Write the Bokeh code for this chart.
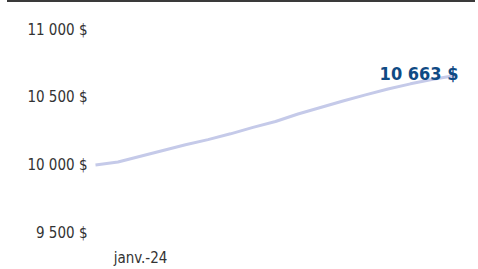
from bokeh.plotting import figure
from bokeh.models import FixedTicker, Range1d, Div
from bokeh.layouts import column
from bokeh.core.properties import value
from bokeh.embed import file_html
from bokeh.resources import INLINE

# Data
months = list(range(17))
values = [10000, 10022, 10065, 10108, 10150, 10188, 10231, 10279, 10322,
          10378, 10426, 10474, 10519, 10563, 10601, 10635, 10663]
y_ticks = [9500, 10000, 10500, 11000]
y_tick_labels = {9500: "9 500 $", 10000: "10 000 $", 10500: "10 500 $", 11000: "11 000 $"}
x_ticks = [2]
x_tick_labels = {2: "janv.-24"}
end_label = "10 663 $"

FONT = "DejaVu Sans Condensed"

bar = Div(text="", width=468, height=2, margin=(0, 0, 0, 7),
          styles={"background-color": "#3a3a3a", "height": "2px", "width": "468px"})

p = figure(width=478, height=267, output_backend="svg", toolbar_location=None,
           x_range=Range1d(-0.222, 16.667), y_range=Range1d(9493, 11144),
           min_border_left=90, min_border_right=8, min_border_top=8, min_border_bottom=25,
           margin=(0, 0, 0, 0))
p.outline_line_color = None
p.grid.grid_line_color = None
p.background_fill_color = "white"
p.border_fill_color = "white"

p.line(months, values, line_color="#c5cae9", line_width=3)
p.text([months[-1]], [values[-1]], text=[end_label], text_align="right",
       text_baseline="alphabetic", x_offset=3, y_offset=-2,
       text_font=value(FONT), text_font_style="bold", text_font_size="18px",
       text_color="#0f4a84")

ya = p.yaxis[0]
ya.ticker = FixedTicker(ticks=y_ticks)
ya.major_label_overrides = y_tick_labels
ya.axis_line_color = None
ya.major_tick_line_color = None
ya.minor_tick_line_color = None
ya.major_tick_out = 0
ya.major_label_standoff = 3
ya.major_label_text_font = FONT
ya.major_label_text_font_size = "15px"
ya.major_label_text_color = "#333333"

xa = p.xaxis[0]
xa.ticker = FixedTicker(ticks=x_ticks)
xa.major_label_overrides = x_tick_labels
xa.axis_line_color = None
xa.major_tick_line_color = None
xa.minor_tick_line_color = None
xa.major_tick_out = 0
xa.major_label_standoff = 15
xa.major_label_text_font = FONT
xa.major_label_text_font_size = "15px"
xa.major_label_text_color = "#333333"

layout = column(bar, p, spacing=0)

open("out.html", "w").write(file_html(layout, INLINE))
